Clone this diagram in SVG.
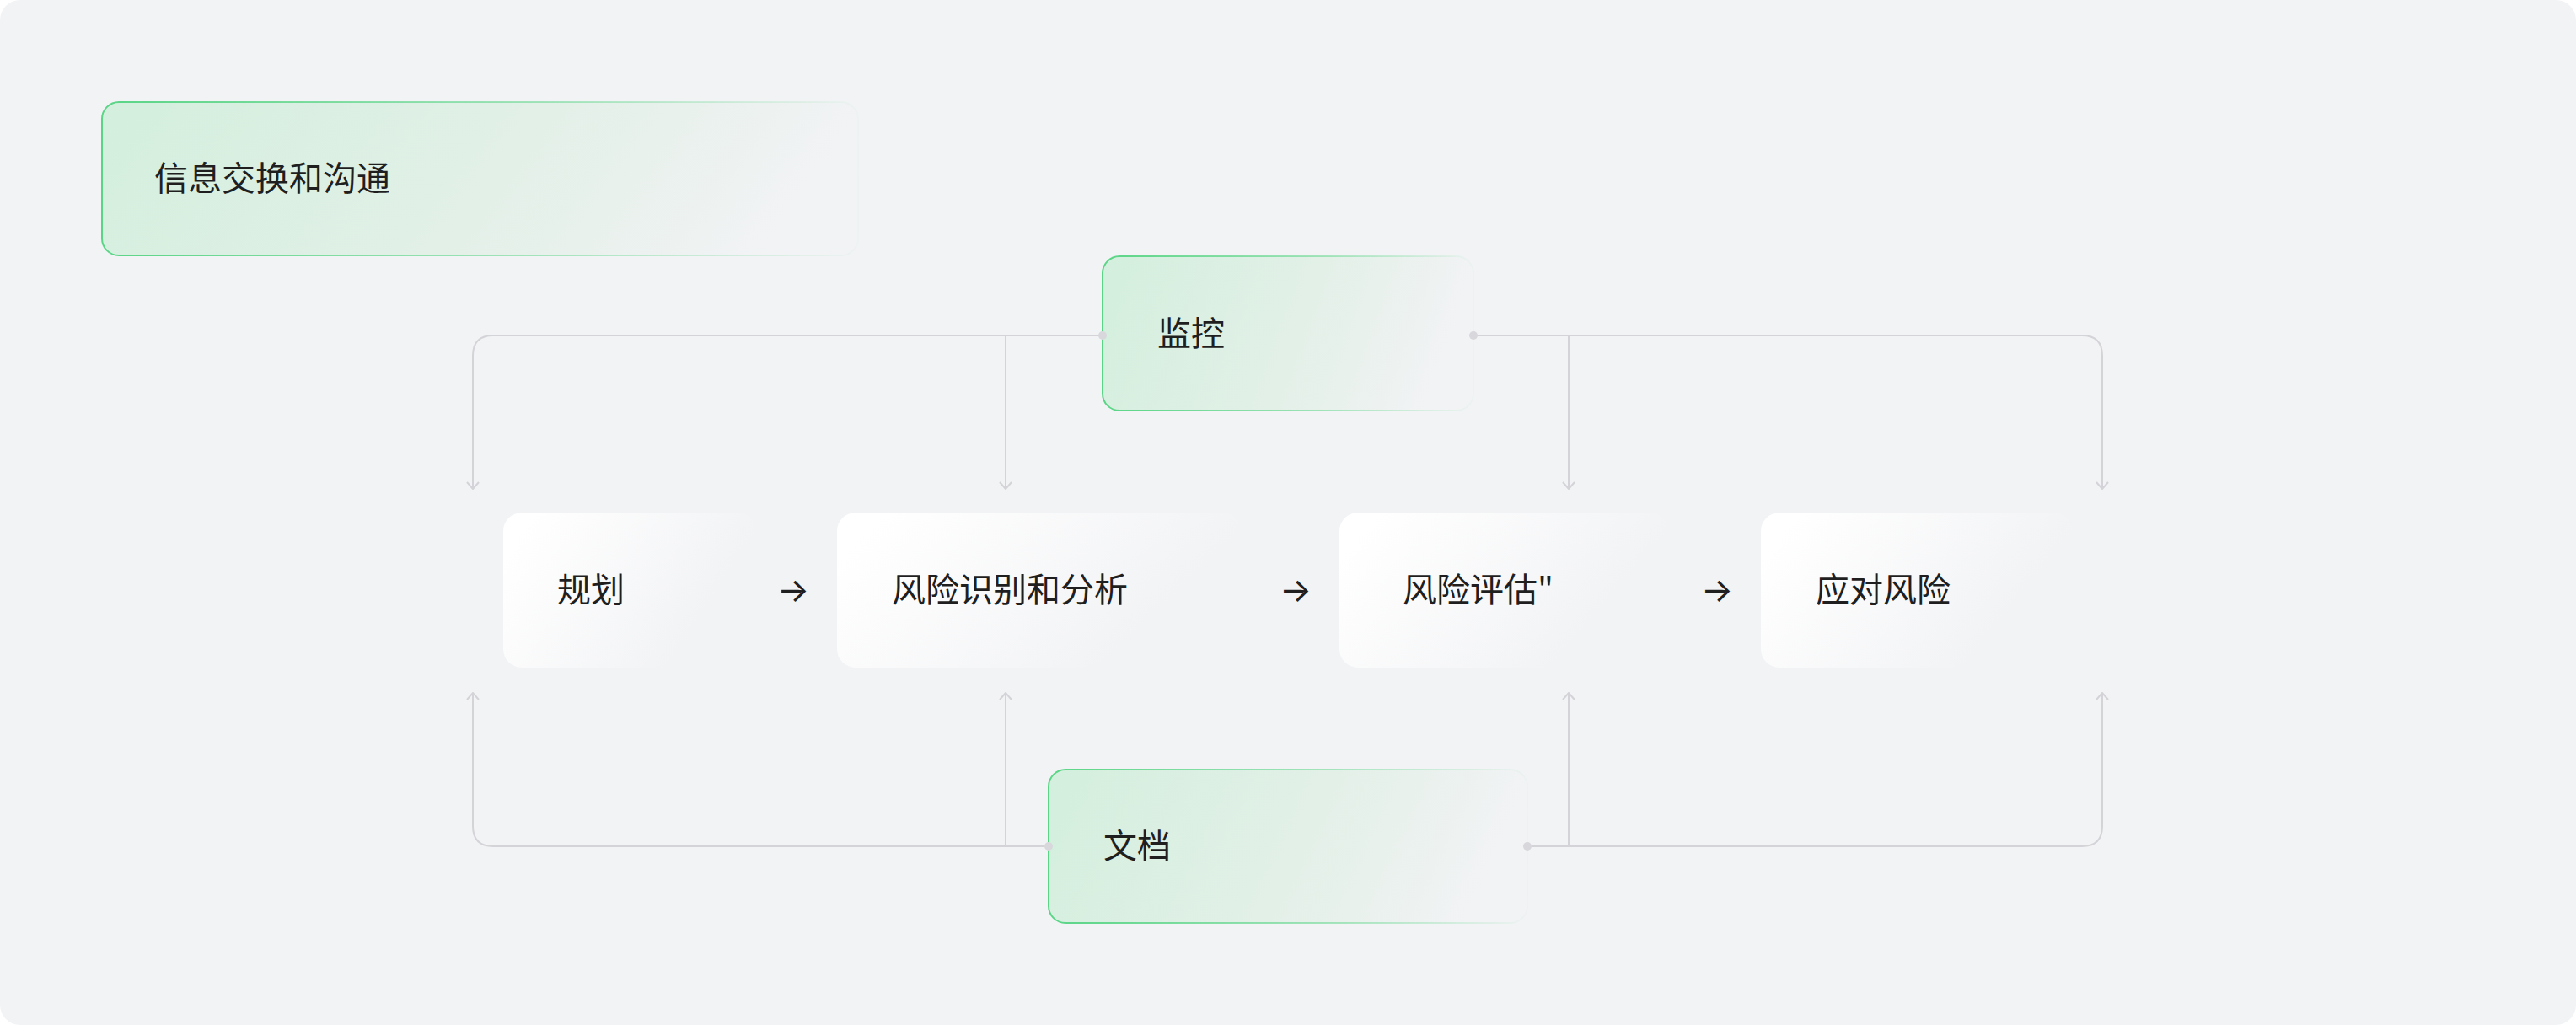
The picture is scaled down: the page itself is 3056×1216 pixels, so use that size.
<svg xmlns="http://www.w3.org/2000/svg" width="3056" height="1216" viewBox="0 0 3056 1216">
  <style>
    .lbl { font-family: "Noto Sans CJK SC", "Noto Sans", sans-serif; font-size: 40px; fill: #1f1f1f; }
    .arrow { font-family: Inter, "Noto Sans CJK SC", sans-serif; font-size: 40px; fill: #1f1f1f; }
    .conn { fill: none; stroke: #d4d4d8; stroke-width: 2; }
    .dot { fill: #d8d8dc; }
    .gbox { fill: url(#gFill); stroke: url(#gStroke); stroke-width: 2; }
    .wbox { fill: url(#wFill); }
  </style>
  <defs>
    <linearGradient id="gFill" x1="0" y1="0" x2="1" y2="0.15">
      <stop offset="0" stop-color="#d3efdd"/>
      <stop offset="0.6" stop-color="#e3f0e8"/>
      <stop offset="0.9" stop-color="#eef2f1"/>
      <stop offset="1" stop-color="#f2f3f5"/>
    </linearGradient>
    <linearGradient id="gStroke" x1="0" y1="0" x2="1" y2="0">
      <stop offset="0" stop-color="#5ad586" stop-opacity="1"/>
      <stop offset="0.6" stop-color="#5ad586" stop-opacity="0.5"/>
      <stop offset="1" stop-color="#5ad586" stop-opacity="0.03"/>
    </linearGradient>
    <linearGradient id="wFill" x1="0" y1="0.3" x2="1" y2="0.7">
      <stop offset="0" stop-color="#ffffff"/>
      <stop offset="0.8" stop-color="#f2f3f5"/>
      <stop offset="1" stop-color="#f2f3f5"/>
    </linearGradient>
    <marker id="arr" viewBox="0 0 10 16" refX="9" refY="8" markerWidth="10" markerHeight="16" markerUnits="userSpaceOnUse" orient="auto">
      <path d="M1,1 L9,8 L1,15" fill="none" stroke="#d4d4d8" stroke-width="2"/>
    </marker>
  </defs>

  <rect x="0" y="0" width="3056" height="1216" fill="#ffffff"/>
  <rect x="0" y="0" width="3056" height="1216" rx="24" fill="#f2f3f5"/>

  <g id="connectors">
    <path class="conn" d="M1308,398 H585 Q561,398 561,422 V580" marker-end="url(#arr)"/>
    <path class="conn" d="M1193,398 V580" marker-end="url(#arr)"/>
    <path class="conn" d="M1748,398 H2470 Q2494,398 2494,422 V580" marker-end="url(#arr)"/>
    <path class="conn" d="M1861,398 V580" marker-end="url(#arr)"/>
    <path class="conn" d="M1244,1004 H585 Q561,1004 561,980 V822" marker-end="url(#arr)"/>
    <path class="conn" d="M1193,1004 V822" marker-end="url(#arr)"/>
    <path class="conn" d="M1812,1004 H2470 Q2494,1004 2494,980 V822" marker-end="url(#arr)"/>
    <path class="conn" d="M1861,1004 V822" marker-end="url(#arr)"/>
  </g>

  <g id="info">
    <rect class="gbox" x="121" y="121" width="897" height="182" rx="20"/>
    <text class="lbl" x="183" y="226">信息交换和沟通</text>
  </g>

  <g id="monitor">
    <rect class="gbox" x="1308" y="304" width="440" height="183" rx="20"/>
    <text class="lbl" x="1373" y="410">监控</text>
  </g>

  <g id="docs">
    <rect class="gbox" x="1244" y="913" width="568" height="182" rx="20"/>
    <text class="lbl" x="1309" y="1018">文档</text>
  </g>

  <g id="plan">
    <rect class="wbox" x="597" y="608" width="300" height="184" rx="22"/>
    <text class="lbl" x="661" y="714">规划</text>
    <text class="arrow" x="922" y="714">→</text>
  </g>

  <g id="identify">
    <rect class="wbox" x="993" y="608" width="480" height="184" rx="22"/>
    <text class="lbl" x="1058" y="714">风险识别和分析</text>
    <text class="arrow" x="1518" y="714">→</text>
  </g>

  <g id="evaluate">
    <rect class="wbox" x="1589" y="608" width="390" height="184" rx="22"/>
    <text class="lbl" x="1664" y="714">风险评估"</text>
    <text class="arrow" x="2018" y="714">→</text>
  </g>

  <g id="respond">
    <rect class="wbox" x="2089" y="608" width="370" height="184" rx="22"/>
    <text class="lbl" x="2154" y="714">应对风险</text>
  </g>

  <g id="dots">
    <circle class="dot" cx="1308" cy="398" r="5"/>
    <circle class="dot" cx="1748" cy="398" r="5"/>
    <circle class="dot" cx="1244" cy="1004" r="5"/>
    <circle class="dot" cx="1812" cy="1004" r="5"/>
  </g>
</svg>
